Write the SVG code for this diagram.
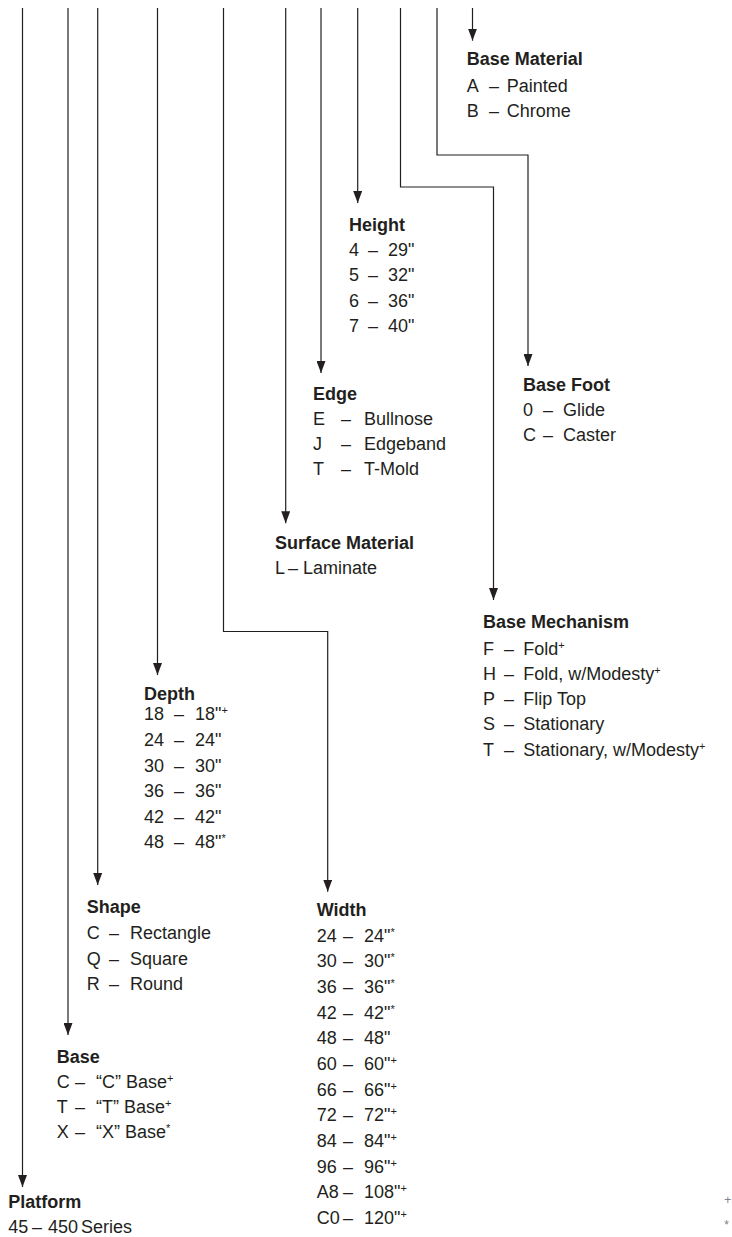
<svg xmlns="http://www.w3.org/2000/svg" width="732" height="1237" viewBox="0 0 732 1237">
<style>
text{font-family:"Liberation Sans",Arial,sans-serif;font-size:18px;fill:#231f20}
.t{font-weight:bold}
.s{font-size:11px}
.fn{font-size:12px;fill:#808080}
.c{fill:none;stroke:#231f20;stroke-width:1.2}
</style>
<defs>
<marker id="ah" viewBox="0 0 12 9" refX="12" refY="4.5" markerWidth="12" markerHeight="9" markerUnits="userSpaceOnUse" orient="auto">
<path d="M0,0 L12,4.5 L0,9 z" fill="#231f20"/>
</marker>
</defs>
<rect width="732" height="1237" fill="#fff"/>
<g id="connectors" class="c" marker-end="url(#ah)">
<path class="c" marker-end="url(#ah)" d="M22.5,8 V1187"/>
<path class="c" marker-end="url(#ah)" d="M68,8 V1035"/>
<path class="c" marker-end="url(#ah)" d="M97.7,8 V885"/>
<path class="c" marker-end="url(#ah)" d="M157.5,8 V675"/>
<path class="c" marker-end="url(#ah)" d="M223.5,8 V631.5 H327.7 V891.7"/>
<path class="c" marker-end="url(#ah)" d="M285.7,8 V523.3"/>
<path class="c" marker-end="url(#ah)" d="M321,8 V373"/>
<path class="c" marker-end="url(#ah)" d="M357.7,8 V203"/>
<path class="c" marker-end="url(#ah)" d="M400.5,8 V187 H493.5 V600"/>
<path class="c" marker-end="url(#ah)" d="M437,8 V155 H528 V366"/>
<path class="c" marker-end="url(#ah)" d="M472.5,8 V40.7"/>
</g>
<g id="base-material">
<text class="t" x="466.7" y="65">Base Material</text>
<text y="91.7"><tspan x="466.7">A</tspan><tspan x="489">–</tspan><tspan x="506.7">Painted</tspan></text>
<text y="117.3"><tspan x="466.7">B</tspan><tspan x="489">–</tspan><tspan x="506.7">Chrome</tspan></text>
</g>
<g id="height">
<text class="t" x="349" y="230.7">Height</text>
<text y="256"><tspan x="349">4</tspan><tspan x="368">–</tspan><tspan x="388">29"</tspan></text>
<text y="281"><tspan x="349">5</tspan><tspan x="368">–</tspan><tspan x="388">32"</tspan></text>
<text y="306.7"><tspan x="349">6</tspan><tspan x="368">–</tspan><tspan x="388">36"</tspan></text>
<text y="331.7"><tspan x="349">7</tspan><tspan x="368">–</tspan><tspan x="388">40"</tspan></text>
</g>
<g id="base-foot">
<text class="t" x="523" y="391">Base Foot</text>
<text y="416"><tspan x="523">0</tspan><tspan x="543">–</tspan><tspan x="563">Glide</tspan></text>
<text y="441"><tspan x="523">C</tspan><tspan x="543">–</tspan><tspan x="563">Caster</tspan></text>
</g>
<g id="edge">
<text class="t" x="313" y="400">Edge</text>
<text y="424.5"><tspan x="313">E</tspan><tspan x="341">–</tspan><tspan x="364">Bullnose</tspan></text>
<text y="450"><tspan x="313">J</tspan><tspan x="341">–</tspan><tspan x="364">Edgeband</tspan></text>
<text y="475"><tspan x="313">T</tspan><tspan x="341">–</tspan><tspan x="364">T-Mold</tspan></text>
</g>
<g id="surface-material">
<text class="t" x="275" y="549">Surface Material</text>
<text y="574"><tspan x="275">L</tspan><tspan x="288">–</tspan><tspan x="303">Laminate</tspan></text>
</g>
<g id="base-mechanism">
<text class="t" x="483" y="628">Base Mechanism</text>
<text y="655"><tspan x="483">F</tspan><tspan x="504">–</tspan><tspan x="523.3">Fold</tspan><tspan class="s" dy="-6">+</tspan></text>
<text y="680"><tspan x="483">H</tspan><tspan x="504">–</tspan><tspan x="523.3">Fold, w/Modesty</tspan><tspan class="s" dy="-6">+</tspan></text>
<text y="705"><tspan x="483">P</tspan><tspan x="504">–</tspan><tspan x="523.3">Flip Top</tspan></text>
<text y="730"><tspan x="483">S</tspan><tspan x="504">–</tspan><tspan x="523.3">Stationary</tspan></text>
<text y="755.5"><tspan x="483">T</tspan><tspan x="504">–</tspan><tspan x="523.3">Stationary, w/Modesty</tspan><tspan class="s" dy="-6">+</tspan></text>
</g>
<g id="depth">
<text class="t" x="144" y="700">Depth</text>
<text y="720"><tspan x="144">18</tspan><tspan x="174">–</tspan><tspan x="195">18"</tspan><tspan class="s" dy="-6">+</tspan></text>
<text y="746"><tspan x="144">24</tspan><tspan x="174">–</tspan><tspan x="195">24"</tspan></text>
<text y="771.7"><tspan x="144">30</tspan><tspan x="174">–</tspan><tspan x="195">30"</tspan></text>
<text y="797"><tspan x="144">36</tspan><tspan x="174">–</tspan><tspan x="195">36"</tspan></text>
<text y="822.7"><tspan x="144">42</tspan><tspan x="174">–</tspan><tspan x="195">42"</tspan></text>
<text y="848"><tspan x="144">48</tspan><tspan x="174">–</tspan><tspan x="195">48"</tspan><tspan class="s" dy="-6">*</tspan></text>
</g>
<g id="shape">
<text class="t" x="86.7" y="913">Shape</text>
<text y="939"><tspan x="86.7">C</tspan><tspan x="109">–</tspan><tspan x="130">Rectangle</tspan></text>
<text y="964.5"><tspan x="86.7">Q</tspan><tspan x="109">–</tspan><tspan x="130">Square</tspan></text>
<text y="990"><tspan x="86.7">R</tspan><tspan x="109">–</tspan><tspan x="130">Round</tspan></text>
</g>
<g id="width">
<text class="t" x="316.7" y="916">Width</text>
<text y="941.7"><tspan x="316.7">24</tspan><tspan x="343">–</tspan><tspan x="364">24"</tspan><tspan class="s" dy="-6">*</tspan></text>
<text y="967.4"><tspan x="316.7">30</tspan><tspan x="343">–</tspan><tspan x="364">30"</tspan><tspan class="s" dy="-6">*</tspan></text>
<text y="993"><tspan x="316.7">36</tspan><tspan x="343">–</tspan><tspan x="364">36"</tspan><tspan class="s" dy="-6">*</tspan></text>
<text y="1018.7"><tspan x="316.7">42</tspan><tspan x="343">–</tspan><tspan x="364">42"</tspan><tspan class="s" dy="-6">*</tspan></text>
<text y="1044.3"><tspan x="316.7">48</tspan><tspan x="343">–</tspan><tspan x="364">48"</tspan></text>
<text y="1070"><tspan x="316.7">60</tspan><tspan x="343">–</tspan><tspan x="364">60"</tspan><tspan class="s" dy="-6">+</tspan></text>
<text y="1095.7"><tspan x="316.7">66</tspan><tspan x="343">–</tspan><tspan x="364">66"</tspan><tspan class="s" dy="-6">+</tspan></text>
<text y="1121.3"><tspan x="316.7">72</tspan><tspan x="343">–</tspan><tspan x="364">72"</tspan><tspan class="s" dy="-6">+</tspan></text>
<text y="1147"><tspan x="316.7">84</tspan><tspan x="343">–</tspan><tspan x="364">84"</tspan><tspan class="s" dy="-6">+</tspan></text>
<text y="1172.6"><tspan x="316.7">96</tspan><tspan x="343">–</tspan><tspan x="364">96"</tspan><tspan class="s" dy="-6">+</tspan></text>
<text y="1198.3"><tspan x="316.7">A8</tspan><tspan x="343">–</tspan><tspan x="364">108"</tspan><tspan class="s" dy="-6">+</tspan></text>
<text y="1224"><tspan x="316.7">C0</tspan><tspan x="343">–</tspan><tspan x="364">120"</tspan><tspan class="s" dy="-6">+</tspan></text>
</g>
<g id="base">
<text class="t" x="56.7" y="1063">Base</text>
<text y="1088"><tspan x="56.7">C</tspan><tspan x="75">–</tspan><tspan x="96">“C” Base</tspan><tspan class="s" dy="-6">+</tspan></text>
<text y="1113"><tspan x="56.7">T</tspan><tspan x="75">–</tspan><tspan x="96">“T” Base</tspan><tspan class="s" dy="-6">+</tspan></text>
<text y="1138"><tspan x="56.7">X</tspan><tspan x="75">–</tspan><tspan x="96">“X” Base</tspan><tspan class="s" dy="-6">*</tspan></text>
</g>
<g id="platform">
<text class="t" x="8.3" y="1208">Platform</text>
<text y="1233"><tspan x="8.3">45</tspan><tspan x="32">–</tspan><tspan x="48">450</tspan><tspan x="81">Series</tspan></text>
</g>
<g id="footnotes">
<text class="fn" x="727.7" y="1204" text-anchor="middle">+</text>
<text class="fn" x="726.7" y="1229" text-anchor="middle">*</text>
</g>
</svg>
